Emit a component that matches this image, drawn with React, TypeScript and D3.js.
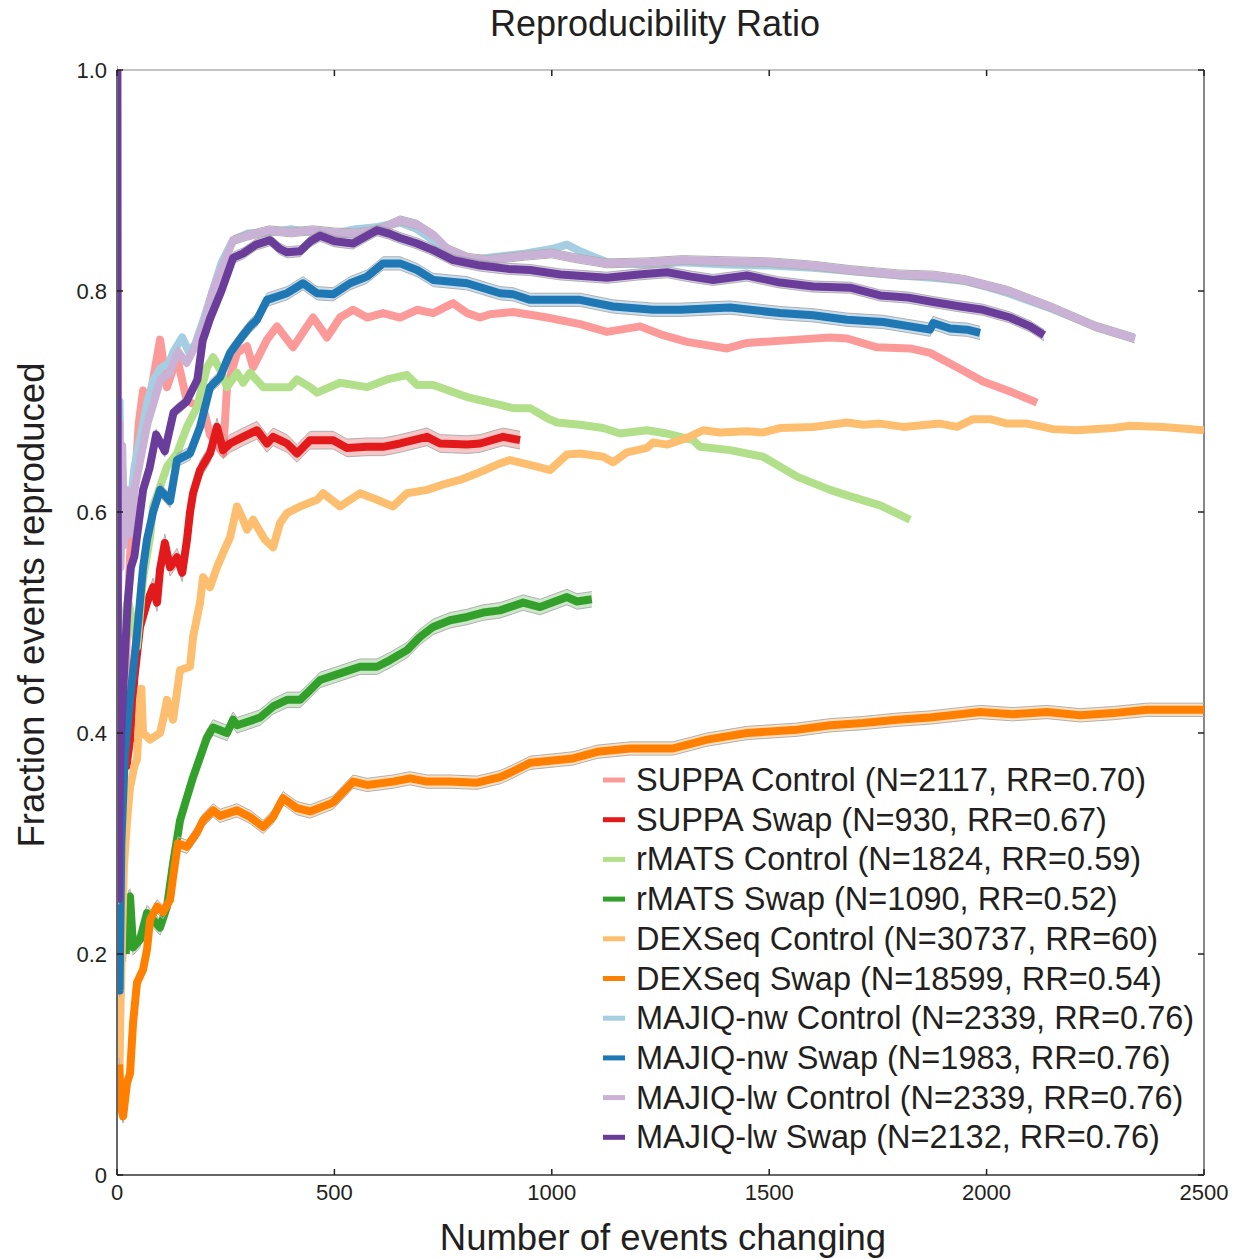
import React from "react";
import * as d3 from "d3";

type Pt = [number, number];

const suppaControl: Pt[] = [[2,0.5],[5,0.4],[10,0.35],[15,0.38],[22,0.48],[30,0.56],[40,0.62],[50,0.68],[60,0.71],[70,0.69],[83,0.72],[99,0.756],[115,0.713],[138,0.74],[161,0.70],[198,0.695],[214,0.67],[244,0.653],[253,0.713],[276,0.744],[299,0.75],[313,0.731],[345,0.756],[368,0.768],[405,0.749],[437,0.768],[451,0.776],[483,0.758],[513,0.776],[543,0.783],[575,0.776],[612,0.78],[651,0.776],[690,0.783],[727,0.78],[773,0.789],[805,0.78],[835,0.776],[858,0.779],[911,0.781],[989,0.776],[1065,0.77],[1127,0.763],[1203,0.768],[1256,0.76],[1311,0.754],[1403,0.748],[1449,0.753],[1564,0.756],[1640,0.758],[1679,0.757],[1748,0.749],[1824,0.748],[1870,0.744],[1932,0.731],[1992,0.718],[2054,0.709],[2116,0.699]];

const suppaSwap: Pt[] = [[3,0.33],[8,0.36],[14,0.38],[22,0.37],[30,0.394],[40,0.45],[53,0.496],[69,0.518],[83,0.532],[92,0.518],[99,0.548],[110,0.572],[122,0.55],[138,0.559],[150,0.545],[161,0.575],[168,0.60],[175,0.617],[191,0.638],[214,0.653],[230,0.677],[244,0.656],[260,0.662],[290,0.668],[322,0.674],[345,0.662],[359,0.668],[391,0.662],[414,0.653],[444,0.665],[497,0.665],[529,0.658],[575,0.659],[612,0.659],[651,0.662],[713,0.668],[743,0.662],[805,0.661],[835,0.662],[888,0.668],[927,0.665]];

const rmatsControl: Pt[] = [[5,0.4],[15,0.5],[25,0.52],[37,0.5],[46,0.478],[60,0.54],[76,0.577],[83,0.605],[115,0.641],[138,0.653],[161,0.677],[184,0.695],[207,0.731],[221,0.74],[237,0.729],[253,0.713],[276,0.726],[290,0.717],[306,0.726],[336,0.713],[368,0.713],[398,0.713],[414,0.72],[444,0.713],[460,0.708],[513,0.717],[575,0.713],[621,0.72],[667,0.724],[690,0.715],[727,0.715],[805,0.704],[881,0.697],[911,0.694],[950,0.694],[989,0.685],[1012,0.681],[1065,0.679],[1118,0.676],[1157,0.671],[1219,0.674],[1265,0.671],[1325,0.665],[1341,0.659],[1410,0.656],[1486,0.65],[1564,0.632],[1640,0.62],[1679,0.615],[1755,0.606],[1824,0.593]];

const rmatsSwap: Pt[] = [[20,0.2],[26,0.25],[30,0.252],[37,0.206],[53,0.213],[69,0.237],[83,0.231],[99,0.224],[115,0.243],[129,0.282],[145,0.321],[161,0.342],[175,0.36],[191,0.378],[207,0.396],[221,0.405],[253,0.40],[267,0.412],[276,0.407],[299,0.41],[329,0.414],[359,0.424],[391,0.43],[421,0.43],[437,0.436],[467,0.448],[513,0.454],[559,0.46],[598,0.46],[628,0.466],[667,0.475],[697,0.487],[727,0.496],[766,0.502],[805,0.505],[842,0.509],[881,0.511],[934,0.518],[973,0.514],[1035,0.523],[1058,0.519],[1092,0.521]];

const dexseqControl: Pt[] = [[1,0.2],[3,0.1],[5,0.08],[8,0.15],[12,0.22],[16,0.28],[23,0.32],[30,0.351],[40,0.37],[46,0.376],[53,0.43],[56,0.44],[60,0.40],[76,0.394],[99,0.40],[106,0.412],[115,0.43],[129,0.412],[145,0.457],[168,0.46],[175,0.487],[191,0.518],[198,0.541],[214,0.532],[230,0.55],[244,0.563],[260,0.577],[276,0.605],[290,0.593],[299,0.584],[313,0.593],[340,0.575],[359,0.568],[375,0.59],[391,0.599],[421,0.605],[460,0.611],[474,0.617],[513,0.605],[559,0.617],[598,0.611],[635,0.605],[667,0.617],[713,0.62],[759,0.626],[789,0.629],[828,0.635],[881,0.644],[904,0.647],[966,0.641],[996,0.638],[1035,0.652],[1065,0.653],[1118,0.65],[1141,0.645],[1173,0.654],[1219,0.658],[1233,0.663],[1265,0.661],[1311,0.667],[1348,0.674],[1387,0.672],[1449,0.673],[1486,0.672],[1525,0.676],[1601,0.677],[1679,0.681],[1716,0.679],[1755,0.68],[1808,0.677],[1893,0.68],[1932,0.677],[1969,0.684],[2008,0.684],[2047,0.68],[2093,0.68],[2153,0.675],[2208,0.674],[2291,0.676],[2330,0.678],[2406,0.677],[2500,0.674]];

const dexseqSwap: Pt[] = [[5,0.1],[10,0.06],[14,0.053],[23,0.083],[30,0.092],[37,0.138],[46,0.174],[60,0.186],[69,0.204],[76,0.231],[92,0.243],[106,0.238],[122,0.249],[129,0.27],[140,0.30],[161,0.297],[184,0.31],[198,0.321],[221,0.33],[237,0.325],[276,0.33],[306,0.324],[336,0.315],[359,0.324],[382,0.341],[414,0.332],[444,0.329],[497,0.337],[543,0.356],[575,0.353],[635,0.356],[674,0.359],[713,0.356],[766,0.356],[828,0.355],[881,0.36],[904,0.364],[950,0.373],[1049,0.377],[1104,0.383],[1180,0.386],[1279,0.386],[1357,0.394],[1449,0.40],[1564,0.403],[1640,0.407],[1716,0.409],[1794,0.412],[1870,0.414],[1985,0.419],[2060,0.417],[2139,0.419],[2215,0.416],[2291,0.418],[2369,0.421],[2500,0.421]];

const majiqNwControl: Pt[] = [[2,0.5],[4,0.62],[6,0.7],[8,0.56],[12,0.64],[16,0.58],[22,0.6],[30,0.6],[40,0.64],[55,0.67],[70,0.7],[85,0.72],[100,0.73],[120,0.735],[130,0.745],[150,0.758],[165,0.745],[180,0.752],[200,0.775],[220,0.80],[240,0.825],[267,0.846],[300,0.852],[350,0.853],[400,0.856],[450,0.853],[500,0.852],[550,0.856],[600,0.858],[651,0.862],[690,0.856],[730,0.845],[760,0.835],[808,0.828],[850,0.83],[940,0.834],[1000,0.838],[1035,0.842],[1065,0.836],[1127,0.826],[1220,0.824],[1300,0.826],[1400,0.824],[1500,0.823],[1600,0.821],[1686,0.818],[1800,0.814],[1877,0.812],[1950,0.809],[2000,0.804],[2050,0.798],[2150,0.784],[2250,0.768],[2341,0.757]];

const majiqNwSwap: Pt[] = [[2,0.25],[4,0.2],[6,0.167],[10,0.3],[18,0.38],[30,0.43],[46,0.49],[60,0.55],[69,0.575],[83,0.60],[99,0.62],[122,0.61],[138,0.647],[168,0.653],[191,0.677],[214,0.713],[237,0.722],[260,0.744],[290,0.76],[306,0.768],[322,0.774],[345,0.792],[391,0.798],[428,0.807],[460,0.798],[497,0.797],[536,0.807],[575,0.813],[612,0.825],[651,0.825],[690,0.819],[727,0.81],[805,0.807],[881,0.798],[911,0.797],[950,0.792],[1065,0.792],[1141,0.786],[1233,0.783],[1295,0.783],[1410,0.785],[1525,0.78],[1601,0.778],[1679,0.774],[1762,0.772],[1870,0.765],[1877,0.771],[1916,0.766],[1955,0.765],[1985,0.762]];

const majiqLwControl: Pt[] = [[2,0.5],[4,0.6],[6,0.68],[8,0.55],[12,0.66],[16,0.57],[22,0.62],[30,0.58],[40,0.62],[55,0.65],[70,0.68],[85,0.70],[100,0.72],[120,0.725],[140,0.745],[160,0.735],[180,0.75],[200,0.77],[220,0.80],[240,0.82],[267,0.846],[300,0.85],[350,0.855],[400,0.853],[450,0.855],[500,0.853],[550,0.852],[600,0.855],[651,0.864],[690,0.86],[730,0.85],[760,0.838],[808,0.83],[850,0.828],[940,0.832],[1000,0.834],[1050,0.83],[1127,0.825],[1220,0.826],[1300,0.828],[1400,0.827],[1500,0.826],[1600,0.823],[1686,0.819],[1800,0.815],[1877,0.814],[1950,0.81],[2000,0.805],[2050,0.80],[2150,0.785],[2250,0.768],[2341,0.757]];

const majiqLwSwap: Pt[] = [[1,1.0],[2,0.5],[3,0.33],[4,0.25],[6,0.33],[8,0.38],[12,0.42],[18,0.47],[25,0.52],[32,0.55],[40,0.56],[50,0.59],[60,0.62],[75,0.64],[90,0.67],[110,0.655],[130,0.69],[160,0.70],[185,0.72],[197,0.755],[214,0.775],[240,0.80],[267,0.83],[290,0.834],[320,0.842],[352,0.846],[375,0.838],[391,0.835],[421,0.836],[445,0.845],[467,0.85],[500,0.845],[543,0.843],[575,0.85],[598,0.855],[625,0.852],[651,0.848],[690,0.843],[727,0.837],[773,0.828],[835,0.823],[900,0.82],[950,0.819],[1020,0.815],[1127,0.812],[1200,0.815],[1265,0.817],[1320,0.813],[1371,0.81],[1449,0.814],[1520,0.808],[1601,0.804],[1686,0.803],[1755,0.796],[1820,0.794],[1877,0.79],[1940,0.786],[1992,0.783],[2054,0.776],[2100,0.768],[2132,0.76]];

const seriesData: Pt[][] = [suppaControl, suppaSwap, rmatsControl, rmatsSwap, dexseqControl, dexseqSwap, majiqNwControl, majiqNwSwap, majiqLwControl, majiqLwSwap];
const seriesLabels: string[] = [
  "SUPPA Control (N=2117, RR=0.70)",
  "SUPPA Swap (N=930, RR=0.67)",
  "rMATS Control (N=1824, RR=0.59)",
  "rMATS Swap (N=1090, RR=0.52)",
  "DEXSeq Control (N=30737, RR=60)",
  "DEXSeq Swap (N=18599, RR=0.54)",
  "MAJIQ-nw Control (N=2339, RR=0.76)",
  "MAJIQ-nw Swap (N=1983, RR=0.76)",
  "MAJIQ-lw Control (N=2339, RR=0.76)",
  "MAJIQ-lw Swap (N=2132, RR=0.76)",
];
const seriesColors: string[] = ["#fb9a99", "#e31a1c", "#b2df8a", "#33a02c", "#fdbf6f", "#ff7f00", "#a6cee3", "#1f78b4", "#cab2d6", "#6a3d9a"];
const bandHalfWidth: number[] = [0, 0.008, 0, 0.007, 0, 0.006, 0, 0.006, 0.004, 0.005];

const xTicks: number[] = [0, 500, 1000, 1500, 2000, 2500];
const yTicks: number[] = [0, 0.2, 0.4, 0.6, 0.8, 1.0];
const yTickLabels: string[] = ["0", "0.2", "0.4", "0.6", "0.8", "1.0"];

const W = 1233, H = 1259;
const L = 117, R = 1204, T = 70, B = 1175;
const FONT = "'Liberation Sans', Arial, Helvetica, sans-serif";

export default function App() {
  const x = d3.scaleLinear().domain([0, 2500]).range([L, R]);
  const y = d3.scaleLinear().domain([0, 1]).range([B, T]);
  const line = d3.line<Pt>().x(d => x(d[0])).y(d => y(d[1]));
  const area = (hw: number) => d3.area<Pt>().x(d => x(d[0])).y0(d => y(d[1] - hw)).y1(d => y(d[1] + hw));
  const bandEdge = (hw: number) => d3.line<Pt>().x(d => x(d[0])).y(d => y(d[1] + hw));

  return (
    <svg width={W} height={H} style={{ position: "absolute", left: 0, top: 0, background: "#fff" }} fontFamily={FONT}>
      <defs>
        <clipPath id="plotclip"><rect x={L} y={T - 4} width={R - L} height={B - T + 4} /></clipPath>
      </defs>
      <text x={655} y={36} textAnchor="middle" fontSize={36} fill="#231f20">Reproducibility Ratio</text>

      <line x1={L} y1={T} x2={R} y2={T} stroke="#888" strokeWidth={1.2} />
      <line x1={R} y1={T} x2={R} y2={B} stroke="#888" strokeWidth={2} />

      <g clipPath="url(#plotclip)">
        {seriesData.map((d, i) => (
          <g key={i}>
            {bandHalfWidth[i] > 0 && (
              <>
                <path d={area(bandHalfWidth[i])(d) || ""} fill={seriesColors[i]} fillOpacity={0.25} stroke="none" />
                <path d={bandEdge(bandHalfWidth[i])(d) || ""} fill="none" stroke="#b0b0b0" strokeWidth={1} />
                <path d={bandEdge(-bandHalfWidth[i])(d) || ""} fill="none" stroke="#b0b0b0" strokeWidth={1} />
              </>
            )}
            <path d={line(d) || ""} fill="none" stroke={seriesColors[i]} strokeWidth={8} strokeLinejoin="round" />
          </g>
        ))}
      </g>

      <line x1={L} y1={T} x2={L} y2={B} stroke="#666" strokeWidth={2} />
      <line x1={L} y1={B} x2={R} y2={B} stroke="#666" strokeWidth={2} />

      {yTicks.map((t, i) => (
        <g key={"y" + i}>
          <line x1={L} x2={L + 6} y1={y(t)} y2={y(t)} stroke="#231f20" strokeWidth={1.5} />
          <line x1={R - 6} x2={R} y1={y(t)} y2={y(t)} stroke="#231f20" strokeWidth={1.5} />
          <text x={L - 10} y={y(t) + 8} textAnchor="end" fontSize={22} fill="#231f20">{yTickLabels[i]}</text>
        </g>
      ))}
      {xTicks.map((t, i) => (
        <g key={"x" + i}>
          <line x1={x(t)} x2={x(t)} y1={B} y2={B - 6} stroke="#231f20" strokeWidth={1.5} />
          <line x1={x(t)} x2={x(t)} y1={T} y2={T + 6} stroke="#231f20" strokeWidth={1.5} />
          <text x={x(t)} y={B + 25} textAnchor="middle" fontSize={22} fill="#231f20">{t}</text>
        </g>
      ))}

      <text x={663} y={1250} textAnchor="middle" fontSize={36.5} fill="#231f20">Number of events changing</text>
      <text transform={`translate(44,605) rotate(-90)`} textAnchor="middle" fontSize={36.5} fill="#231f20">Fraction of events reproduced</text>

      {seriesLabels.map((lab, i) => {
        const cy = 780 + i * 39.7;
        return (
          <g key={"lg" + i}>
            <line x1={603} x2={625} y1={cy} y2={cy} stroke={seriesColors[i]} strokeWidth={5} />
            <text x={636} y={cy + 11} fontSize={32.5} fill="#231f20">{lab}</text>
          </g>
        );
      })}
    </svg>
  );
}
